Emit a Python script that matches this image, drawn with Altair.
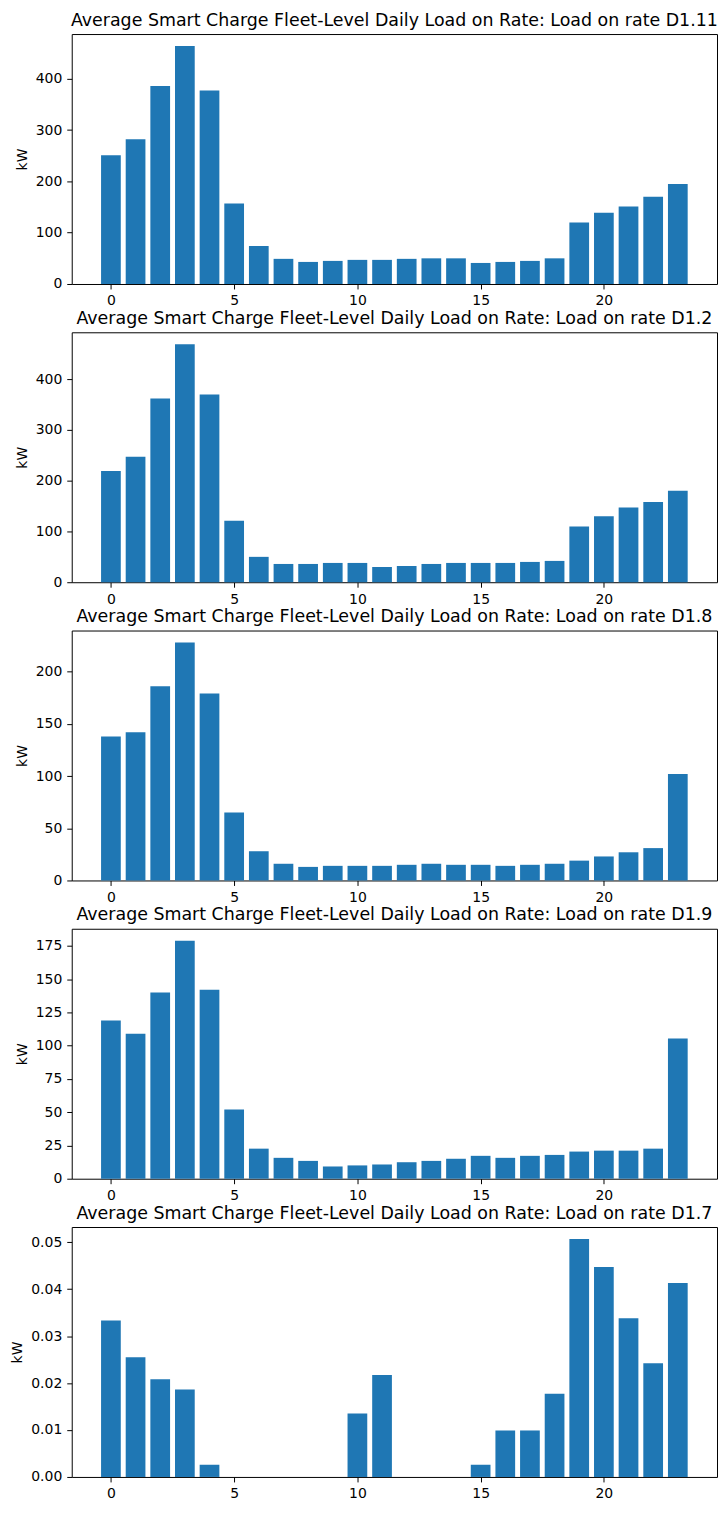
import altair as alt
import pandas as pd

hours = list(range(24))
rates = ["D1.11", "D1.2", "D1.8", "D1.9", "D1.7"]
load_d1_11 = [251, 282, 386, 464, 377, 157, 74, 49, 43, 45, 47, 47, 49, 50, 50, 41, 43, 45, 50, 120, 139, 151, 170, 195]
load_d1_2 = [219, 247, 362, 469, 370, 121, 50, 36, 36, 38, 38, 30, 32, 36, 38, 38, 38, 40, 42, 110, 130, 147, 158, 180]
load_d1_8 = [138, 142, 186, 228, 179, 65, 28, 16, 13, 14, 14, 14, 15, 16, 15, 15, 14, 15, 16, 19, 23, 27, 31, 102]
load_d1_9 = [119, 109, 140, 179, 142, 52, 22.6, 15.7, 13.4, 9.2, 10, 10.7, 12.4, 13.4, 15, 17.2, 15.7, 17.2, 17.9, 20.4, 21.1, 21.1, 22.6, 105.4]
load_d1_7 = [0.0333, 0.0255, 0.0208, 0.0186, 0.0026, 0, 0, 0, 0, 0, 0.0135, 0.0217, 0, 0, 0, 0.0026, 0.0099, 0.0099, 0.0177, 0.0507, 0.0447, 0.0338, 0.0242, 0.0413]
series = [load_d1_11, load_d1_2, load_d1_8, load_d1_9, load_d1_7]
y_ticks = [
    [0, 100, 200, 300, 400],
    [0, 100, 200, 300, 400],
    [0, 50, 100, 150, 200],
    [0, 25, 50, 75, 100, 125, 150, 175],
    [0, 0.01, 0.02, 0.03, 0.04, 0.05],
]
y_formats = ["d", "d", "d", "d", ".2f"]
x_ticks = [0, 5, 10, 15, 20]

FONT = "DejaVu Sans"


def panel(rate, values, ticks, fmt):
    df = pd.DataFrame({"hour": hours, "kW": values})
    ymax = max(values) * 1.05
    return (
        alt.Chart(
            df,
            title=alt.TitleParams(
                f"Average Smart Charge Fleet-Level Daily Load on Rate: Load on rate {rate}",
                font=FONT, fontSize=17.5, fontWeight="normal", color="black",
                anchor="middle", offset=5,
            ),
        )
        .transform_calculate(x0="datum.hour - 0.4", x1="datum.hour + 0.4")
        .mark_bar(color="#1f77b4")
        .encode(
            x=alt.X("x0:Q", scale=alt.Scale(domain=[-1.59, 24.59], nice=False, zero=False, padding=0),
                    axis=alt.Axis(values=x_ticks, title=None, format="d")),
            x2="x1:Q",
            y=alt.Y("kW:Q", scale=alt.Scale(domain=[0, ymax], nice=False, padding=0),
                    axis=alt.Axis(values=ticks, format=fmt, title="kW")),
            y2=alt.datum(0),
        )
        .properties(width=648, height=251)
    )


charts = [panel(r, v, t, f) for r, v, t, f in zip(rates, series, y_ticks, y_formats)]

chart = (
    alt.vconcat(*charts, spacing=48.5, bounds="flush")
    .properties(padding={"left": 2, "top": 0, "right": 0, "bottom": -3})
    .configure_view(stroke="black", strokeWidth=1)
    .configure_axis(
        domain=False, grid=False, tickColor="black", tickWidth=1, tickSize=5,
        labelFont=FONT, labelFontSize=14, labelColor="black", labelPadding=5,
        titleFont=FONT, titleFontSize=14, titleColor="black", titleFontWeight="normal",
        titlePadding=6,
    )
)

chart.save("out.html", embed_options={"renderer": "svg", "actions": False})
